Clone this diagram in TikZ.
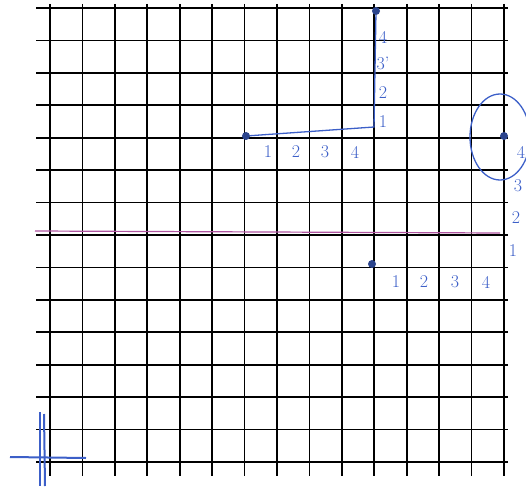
\documentclass[tikz,border=0pt]{standalone}
\usepackage{tikz}
\usetikzlibrary{calc, positioning}
\definecolor{pen}{RGB}{60,95,200}
\definecolor{tim}{RGB}{175,85,160}

\begin{document}
\begin{tikzpicture}[x=1pt, y=-1pt,
    dot/.style={circle, fill=pen!70!black, inner sep=0pt, minimum size=8pt},
    so/.style={text=pen, font=\fontsize{18}{20}\selectfont, inner sep=1pt}]
    \useasboundingbox (0,0) rectangle (526,486);
    % Lưới ô vuông
    \foreach \i in {0,...,14} {
        \draw[line width=1.7pt] ({50+32.43*\i},4) -- ({50+32.43*\i},476);
        \draw[line width=1.7pt] (36,{8+32.43*\i}) -- (508,{8+32.43*\i});
    }
    % Đường màu tím
    \coordinate (p1) at (35,231);
    \coordinate (p2) at (500,233);
    \draw[tim, line width=1.2pt] (p1) -- (p2);

    % Các điểm
    \node[dot] (A) at (376,11) {};
    \node[dot] (B) at (246,136) {};
    \node[dot] (C) at (504,136) {};
    \node[dot] (D) at (372,264) {};

    % Đường đi từ B đến A
    \coordinate (G) at (374,127);
    \draw[pen, line width=1.3pt] (B) -- (G) -- (A);
    \foreach \t/\x in {1/268, 2/296, 3/325, 4/355}
        \node[so] (b\t) at (\x,152) {\t};
    \foreach \t/\y in {1/122, 2/93, 3'/63, 4/37}
        \node[so] (a\t) at (383,\y) {\t};

    % Vòng quanh điểm C
    \draw[pen, line width=1.3pt] (500,137) ellipse [x radius=30, y radius=43];
    \foreach \t/\x/\y in {4/521/152, 3/518/186, 2/516/218, 1/513/251}
        \node[so] (c\t) at (\x,\y) {\t};
    \foreach \t/\x in {1/396, 2/424, 3/455, 4/486}
        \node[so] (d\t) at (\x,282) {\t};

    % Dấu thập góc dưới
    \coordinate (q1) at (40,412);
    \coordinate (q2) at (40,486);
    \coordinate (q3) at (44,414);
    \coordinate (q4) at (45,486);
    \coordinate (q5) at (10,457);
    \coordinate (q6) at (86,458);
    \draw[pen, line width=2pt] (q1) -- (q2);
    \draw[pen, line width=2pt] (q3) -- (q4);
    \draw[pen, line width=2pt] (q5) -- (q6);
\end{tikzpicture}
\end{document}
